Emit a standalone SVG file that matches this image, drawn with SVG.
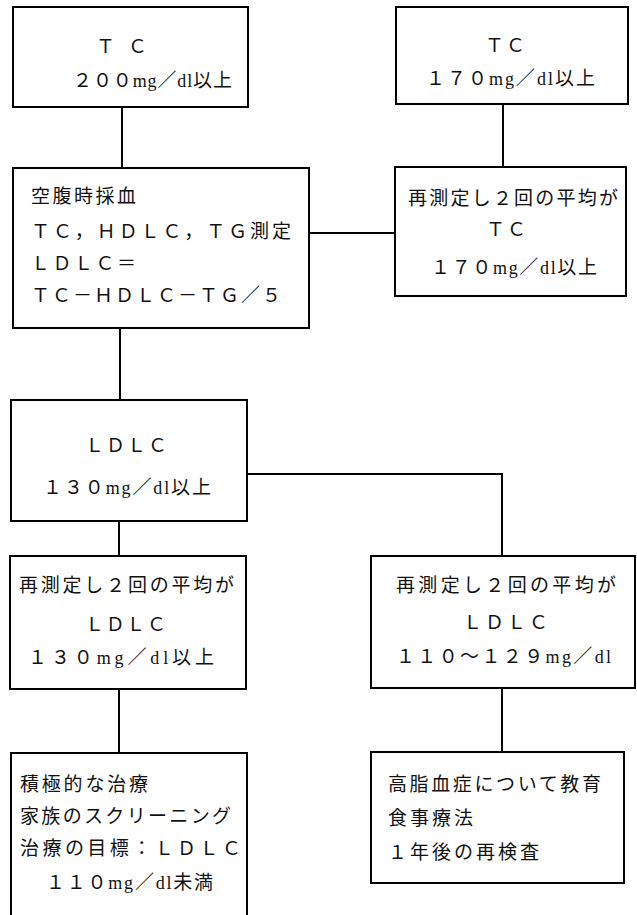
<svg xmlns="http://www.w3.org/2000/svg" width="637" height="915" viewBox="0 0 637 915">
<style>
.box{fill:#fff;stroke:#000;stroke-width:2}
.ln{fill:none;stroke:#000;stroke-width:2}
text{font-family:"Noto Sans CJK JP","Liberation Serif",sans-serif;font-size:19px;fill:#111}
.u{font-family:"Liberation Serif","Noto Sans CJK JP",serif;font-size:18px}
</style>
<rect x="0" y="0" width="637" height="915" fill="#fff"/>
<g id="connectors">
<path class="ln" d="M122,107 V168"/>
<path class="ln" d="M503,104 V167"/>
<path class="ln" d="M309,233 H395"/>
<path class="ln" d="M120,328 V400"/>
<path class="ln" d="M247,474 H502 V556"/>
<path class="ln" d="M119,521 V556"/>
<path class="ln" d="M119,689 V753"/>
<path class="ln" d="M502,688 V752"/>
</g>
<g id="n1">
<rect class="box" x="13" y="7" width="235" height="100"/>
<text x="96" y="53" textLength="51">ＴＣ</text>
<text x="73" y="87" textLength="159">２００<tspan class="u">mg</tspan>／<tspan class="u">dl</tspan>以上</text>
</g>
<g id="n2">
<rect class="box" x="396" y="7" width="232" height="97"/>
<text x="485" y="52" textLength="40">ＴＣ</text>
<text x="426" y="85" textLength="169">１７０<tspan class="u">mg</tspan>／<tspan class="u">dl</tspan>以上</text>
</g>
<g id="n3">
<rect class="box" x="13" y="168" width="296" height="160"/>
<text x="31" y="203" textLength="105">空腹時採血</text>
<text x="31" y="238" textLength="260">ＴＣ，ＨＤＬＣ，ＴＧ測定</text>
<text x="31" y="270" textLength="105">ＬＤＬＣ＝</text>
<text x="31" y="302" textLength="250">ＴＣ－ＨＤＬＣ－ＴＧ／５</text>
</g>
<g id="n4">
<rect class="box" x="395" y="167" width="231" height="129"/>
<text x="408" y="205" textLength="210">再測定し２回の平均が</text>
<text x="486" y="236" textLength="40">ＴＣ</text>
<text x="431" y="274" textLength="166">１７０<tspan class="u">mg</tspan>／<tspan class="u">dl</tspan>以上</text>
</g>
<g id="n5">
<rect class="box" x="11" y="400" width="236" height="121"/>
<text x="85" y="452" textLength="82">ＬＤＬＣ</text>
<text x="43" y="494" textLength="168">１３０<tspan class="u">mg</tspan>／<tspan class="u">dl</tspan>以上</text>
</g>
<g id="n6">
<rect class="box" x="10" y="556" width="236" height="133"/>
<text x="19" y="592" textLength="215">再測定し２回の平均が</text>
<text x="85" y="631" textLength="81">ＬＤＬＣ</text>
<text x="28" y="664" textLength="186">１３０<tspan class="u">mg</tspan>／<tspan class="u">dl</tspan>以上</text>
</g>
<g id="n7">
<rect class="box" x="371" y="556" width="264" height="132"/>
<text x="396" y="592" textLength="220">再測定し２回の平均が</text>
<text x="463" y="629" textLength="85">ＬＤＬＣ</text>
<text x="396" y="663" textLength="215">１１０～１２９<tspan class="u">mg</tspan>／<tspan class="u">dl</tspan></text>
</g>
<g id="n8">
<rect class="box" x="11" y="753" width="236" height="180"/>
<text x="20" y="791" textLength="128">積極的な治療</text>
<text x="20" y="823" textLength="211">家族のスクリーニング</text>
<text x="20" y="855" textLength="221">治療の目標：ＬＤＬＣ</text>
<text x="46" y="889" textLength="167">１１０<tspan class="u">mg</tspan>／<tspan class="u">dl</tspan>未満</text>
</g>
<g id="n9">
<rect class="box" x="371" y="752" width="253" height="131"/>
<text x="388" y="791" textLength="213">高脂血症について教育</text>
<text x="388" y="825" textLength="85">食事療法</text>
<text x="388" y="859" textLength="151">１年後の再検査</text>
</g>
</svg>
